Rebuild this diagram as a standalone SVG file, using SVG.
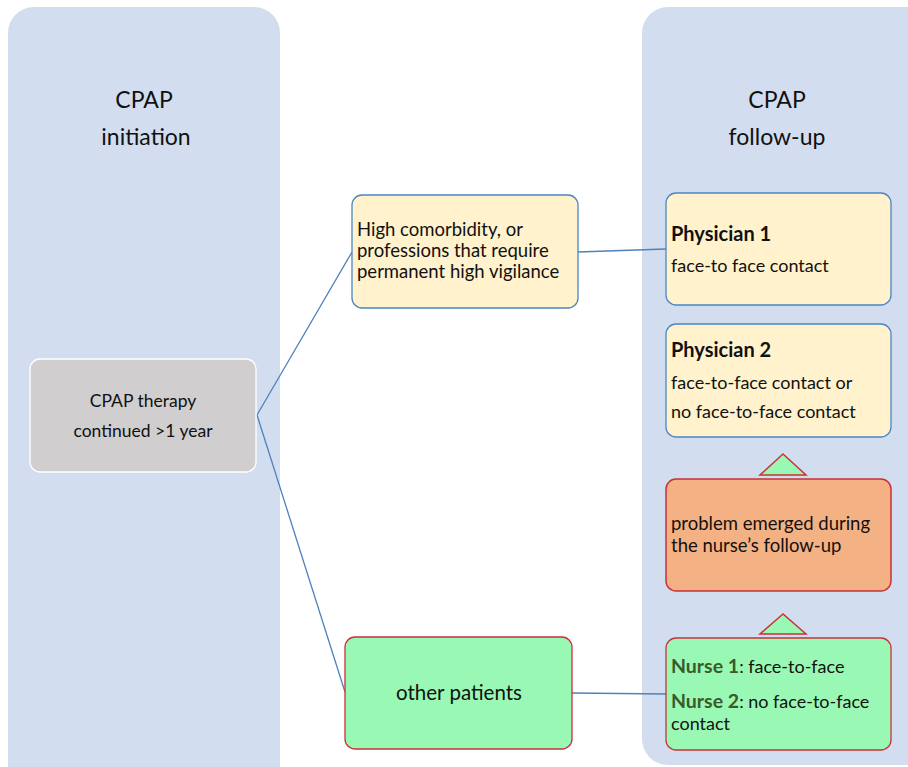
<svg xmlns="http://www.w3.org/2000/svg" width="908" height="767" viewBox="0 0 908 767">
<style>
text{font-family:Lato,"Open Sans","Liberation Sans",sans-serif;fill:#111;}
.t{font-size:18px;}
.h{font-size:23px;text-anchor:middle;}
.c{text-anchor:middle;}
.b{font-weight:bold;font-size:20px;}
.panel{fill:#D2DEEF;}
.yel{fill:#FFF2CC;stroke:#4A86C5;stroke-width:1.3;}
.grn{fill:#99F8B3;stroke:#C8323A;stroke-width:1.3;}
.org{fill:#F4B183;stroke:#C8323A;stroke-width:1.5;}
.gray{fill:#D0CECE;stroke:#FFFFFF;stroke-width:1.3;}
.tri{fill:#99F8B3;stroke:#C8323A;stroke-width:1.5;}
.ln{stroke:#4F81BD;stroke-width:1.3;fill:none;}
.ng{fill:#3A5A2A;font-weight:bold;font-size:19.5px;}
</style>
<rect width="908" height="767" fill="#FFFFFF"/>
<g id="panel-initiation">
<rect class="panel" x="8" y="7" width="272" height="790" rx="26"/>
<text class="h" x="144" y="108">CPAP</text>
<text class="h" x="146" y="145">initiation</text>
</g>
<g id="panel-followup">
<rect class="panel" x="642" y="7" width="290" height="758" rx="26"/>
<text class="h" x="777" y="108">CPAP</text>
<text class="h" x="777" y="145">follow-up</text>
</g>
<g id="connectors">
<line class="ln" x1="257" y1="415" x2="352" y2="252"/>
<line class="ln" x1="257" y1="415" x2="345" y2="692"/>
<line class="ln" x1="578" y1="252" x2="666" y2="249"/>
<line class="ln" x1="572" y1="693" x2="666" y2="694"/>
<polygon class="tri" points="783,454 760,475 806,475"/>
<polygon class="tri" points="783,614 760,634 806,634"/>
</g>
<g id="node-cpap-therapy">
<rect class="gray" x="30" y="359" width="226" height="113" rx="10"/>
<text class="t c" x="143" y="407" style="font-size:17.5px">CPAP therapy</text>
<text class="t c" x="143" y="437" style="font-size:17.5px">continued &gt;1 year</text>
</g>
<g id="node-high-comorbidity">
<rect class="yel" x="352" y="195" width="226" height="113" rx="10"/>
<text class="t" x="357" y="236" style="font-size:18.5px">High comorbidity, or</text>
<text class="t" x="357" y="257" style="font-size:18.5px">professions that require</text>
<text class="t" x="357" y="278" style="font-size:18.5px">permanent high vigilance</text>
</g>
<g id="node-other-patients">
<rect class="grn" x="345" y="637" width="227" height="112" rx="10"/>
<text class="c" x="459" y="700" style="font-size:20.5px">other patients</text>
</g>
<g id="node-physician1">
<rect class="yel" x="666" y="193" width="225" height="112" rx="10"/>
<text class="b" x="671" y="241">Physician 1</text>
<text class="t" x="671" y="272">face-to face contact</text>
</g>
<g id="node-physician2">
<rect class="yel" x="666" y="324" width="225" height="113" rx="10"/>
<text class="b" x="671" y="357">Physician 2</text>
<text class="t" x="671" y="389">face-to-face contact or</text>
<text class="t" x="671" y="418">no face-to-face contact</text>
</g>
<g id="node-problem">
<rect class="org" x="666" y="479" width="225" height="112" rx="10"/>
<text class="t" x="671" y="530" style="font-size:18.5px">problem emerged during</text>
<text class="t" x="671" y="552" style="font-size:18.5px">the nurse’s follow-up</text>
</g>
<g id="node-nurse">
<rect class="grn" x="666" y="638" width="225" height="112" rx="10"/>
<text class="t" x="671" y="673"><tspan class="ng">Nurse 1</tspan>: face-to-face</text>
<text class="t" x="671" y="708"><tspan class="ng">Nurse 2</tspan>: no face-to-face</text>
<text class="t" x="671" y="730">contact</text>
</g>
</svg>
